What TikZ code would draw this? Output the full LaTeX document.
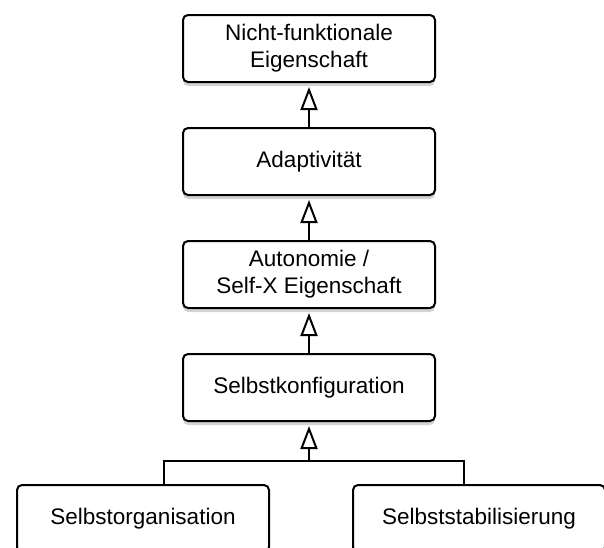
\documentclass[tikz,border=0pt]{standalone}
\usepackage{fontspec}
\setmainfont{Liberation Sans}
\usetikzlibrary{arrows.meta,shadows}

\begin{document}
\begin{tikzpicture}[x=1pt,y=-1pt,
    box/.style={draw, line width=2pt, rounded corners=5pt, fill=white,
      minimum width=252pt, minimum height=67pt, align=center,
      font=\fontsize{22.5}{27}\selectfont,
      drop shadow={shadow xshift=0pt, shadow yshift=-4pt, opacity=0.35}},
    line/.style={line width=2pt},
    gen/.style={line width=2pt, shorten >=4pt,
      -{Triangle[open, length=23pt, width=17pt, line width=2pt]}}]
    \useasboundingbox (0,0) rectangle (604,547);

    \node[box] (nfe) at (309,48.5) {Nicht-funktionale\\Eigenschaft};
    \node[box] (adapt) at (309,161.5) {Adaptivit\"at};
    \node[box] (auto) at (309,274.5) {Autonomie /\\Self-X Eigenschaft};
    \node[box] (konf) at (309,387.5) {Selbstkonfiguration};
    \node[box] (orga) at (143,518.5) {Selbstorganisation};
    \node[box] (stab) at (479,518.5) {Selbststabilisierung};

    \draw[gen] (adapt) -- (nfe);
    \draw[gen] (auto) -- (adapt);
    \draw[gen] (konf) -- (auto);

    \coordinate (bar) at (309,461);
    \draw[line] ([xshift=21pt]orga.north) |- (bar) -| ([xshift=-15pt]stab.north);
    \draw[gen] (bar) -- (konf);
\end{tikzpicture}
\end{document}
